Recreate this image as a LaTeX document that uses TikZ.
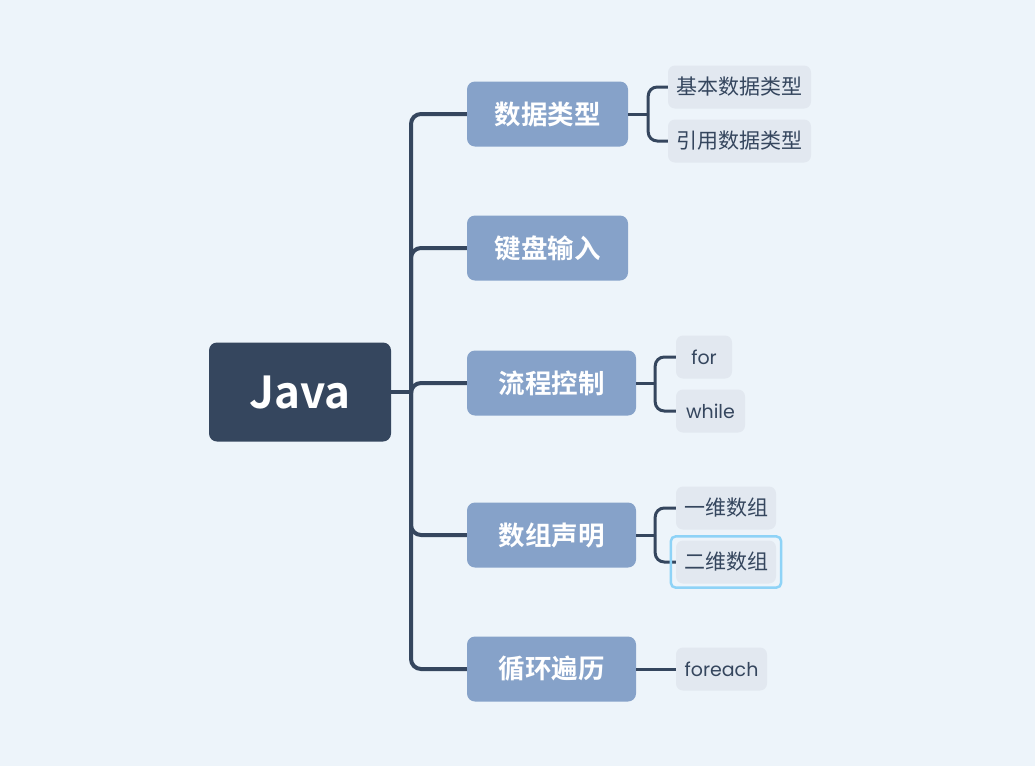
\documentclass[tikz,border=0pt]{standalone}
\usepackage{fontspec}
\setmainfont{Noto Sans CJK SC}[BoldFont={Noto Sans CJK SC Bold}]
\newfontfamily\latinfont{Poppins}
\definecolor{bg}{HTML}{EDF4FA}
\definecolor{rootc}{HTML}{35465E}
\definecolor{branchc}{HTML}{86A2C9}
\definecolor{leafc}{HTML}{E2E8F0}
\definecolor{selc}{HTML}{8ED3F7}
\begin{document}
\begin{tikzpicture}[x=1pt, y=-1pt,
  rootbox/.style={fill=rootc, rounded corners=8pt, text=white, font=\bfseries\fontsize{44}{50}\selectfont,
    minimum width=182pt, minimum height=99pt, inner sep=0pt},
  branch/.style={fill=branchc, rounded corners=8pt, text=white, font=\bfseries\fontsize{26.5}{30}\selectfont,
    minimum height=65pt, inner sep=0pt},
  leaf/.style={fill=leafc, rounded corners=7pt, text=rootc, font=\fontsize{21}{24}\selectfont,
    minimum height=43pt, inner sep=0pt},
  latinleaf/.style={leaf, font=\latinfont\fontsize{19}{24}\selectfont},
  link/.style={draw=rootc, line width=4pt, rounded corners=10pt},
  leaflink/.style={draw=rootc, line width=3pt, rounded corners=9pt},
  select/.style={draw=selc, line width=2.5pt, rounded corners=5pt}]
  \fill[bg] (0,0) rectangle (1035,766);
  \useasboundingbox (0,0) rectangle (1035,766);

  \node[rootbox] (java) at (300,392) {Java};
  \coordinate (hub) at (411,392);

  \node[branch, minimum width=161pt] (types) at (547.5,114) {数据类型};
  \node[branch, minimum width=161pt] (input) at (547.5,248) {键盘输入};
  \node[branch, minimum width=169pt] (flow)  at (551.5,383) {流程控制};
  \node[branch, minimum width=169pt] (array) at (551.5,535) {数组声明};
  \node[branch, minimum width=169pt] (loop)  at (551.5,669) {循环遍历};

  \node[leaf, minimum width=143pt] (basic) at (739.5,87)  {基本数据类型};
  \node[leaf, minimum width=143pt] (ref)   at (739.5,141) {引用数据类型};
  \node[latinleaf, minimum width=56pt] (for)   at (704,357)  {for};
  \node[latinleaf, minimum width=69pt] (while) at (710.5,411) {while};
  \node[leaf, minimum width=100pt] (one)   at (726,508)  {一维数组};
  \node[leaf, minimum width=100pt] (two)   at (726,562)  {二维数组};
  \node[latinleaf, minimum width=91pt] (each)  at (721.5,669) {foreach};

  % trunk
  \draw[link] (java.east) -- (hub);
  \foreach \b in {types,input,flow,array,loop}
    \draw[link] (hub) |- (\b.west);

  % leaves
  \draw[leaflink] (types.east) -- ++(20,0) coordinate (jt);
  \draw[leaflink] (jt) |- (basic.west);
  \draw[leaflink] (jt) |- (ref.west);
  \draw[leaflink] (flow.east) -- ++(19,0) coordinate (jf);
  \draw[leaflink] (jf) |- (for.west);
  \draw[leaflink] (jf) |- (while.west);
  \draw[leaflink] (array.east) -- ++(19,0) coordinate (ja);
  \draw[leaflink] (ja) |- (one.west);
  \draw[leaflink] (ja) |- (two.west);
  \draw[leaflink] (loop.east) -- (each.west);

  \draw[select] ([xshift=-5pt,yshift=4pt]two.north west) rectangle ([xshift=5pt,yshift=-4pt]two.south east);
\end{tikzpicture}
\end{document}
